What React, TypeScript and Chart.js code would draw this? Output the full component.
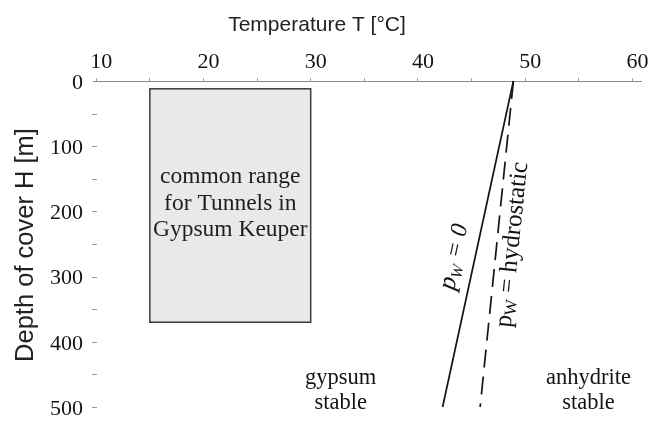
import { useEffect, useRef } from 'react';
import { Chart, registerables } from 'chart.js';

Chart.register(...registerables);

// Temperature axis (top) and depth axis (left, downward)
const tempTicks = [10, 15, 20, 25, 30, 35, 40, 45, 50, 55, 60];
const depthTicks = [0, 50, 100, 150, 200, 250, 300, 350, 400, 450, 500];

// Shaded range of typical tunnels in Gypsum Keuper
const boxTemp = [15, 30];
const boxDepth = [12, 370];
const boxLabel = ['common range', 'for Tunnels in', 'Gypsum Keuper'];

// Gypsum/anhydrite equilibrium temperature vs depth
const dryDepth = [0, 500];
const dryTemp = [48.9, 42.3]; // p_w = 0
const wetDepth = [0, 500];
const wetTemp = [48.9, 45.8]; // p_w = hydrostatic

const gypsumLabel = ['gypsum', 'stable'];
const anhydriteLabel = ['anhydrite', 'stable'];

const SERIF = '"Liberation Serif", "Times New Roman", serif';
const SANS = '"Liberation Sans", Arial, sans-serif';
const INK = '#141414';

type Part = { text: string; font: string; dy: number };

function drawParts(ctx: CanvasRenderingContext2D, parts: Part[], cx: number, cy: number, angle: number) {
  ctx.save();
  ctx.translate(cx, cy);
  ctx.rotate(angle);
  ctx.textBaseline = 'middle';
  ctx.textAlign = 'left';
  const widths = parts.map((p) => {
    ctx.font = p.font;
    return ctx.measureText(p.text).width;
  });
  const total = widths.reduce((a, b) => a + b, 0);
  let x = -total / 2;
  parts.forEach((p, i) => {
    ctx.font = p.font;
    ctx.fillText(p.text, x, p.dy);
    x += widths[i];
  });
  ctx.restore();
}

const annotations = {
  id: 'annotations',
  beforeDatasetsDraw(chart: any) {
    const { ctx } = chart;
    const xs = chart.scales.x;
    const ys = chart.scales.y;
    const x1 = xs.getPixelForValue(boxTemp[0]);
    const x2 = xs.getPixelForValue(boxTemp[1]);
    const y1 = ys.getPixelForValue(boxDepth[0]);
    const y2 = ys.getPixelForValue(boxDepth[1]);
    ctx.save();
    ctx.fillStyle = '#e9e9e9';
    ctx.fillRect(x1, y1, x2 - x1, y2 - y1);
    ctx.strokeStyle = '#3c3c3c';
    ctx.lineWidth = 1.5;
    ctx.strokeRect(x1, y1, x2 - x1, y2 - y1);

    ctx.fillStyle = '#1e1e1e';
    ctx.font = `23.5px ${SERIF}`;
    ctx.textAlign = 'center';
    ctx.textBaseline = 'alphabetic';
    const cx = (x1 + x2) / 2;
    const base = ys.getPixelForValue(157);
    boxLabel.forEach((line, i) => ctx.fillText(line, cx, base + i * 26.5));
    ctx.restore();
  },
  afterDraw(chart: any) {
    const { ctx } = chart;
    const xs = chart.scales.x;
    const ys = chart.scales.y;
    ctx.save();

    // small tick marks of the depth axis
    ctx.strokeStyle = '#9a9a9a';
    ctx.lineWidth = 1;
    depthTicks.forEach((v) => {
      if (v === 0) return;
      const y = Math.round(ys.getPixelForValue(v)) + 0.5;
      ctx.beginPath();
      ctx.moveTo(xs.left - 1, y);
      ctx.lineTo(xs.left + 4, y);
      ctx.stroke();
    });

    // axis titles
    ctx.fillStyle = '#222';
    ctx.font = `21px ${SANS}`;
    ctx.textAlign = 'center';
    ctx.textBaseline = 'alphabetic';
    ctx.fillText('Temperature T [°C]', 317, 31);

    ctx.save();
    ctx.translate(26, 245);
    ctx.rotate(-Math.PI / 2);
    ctx.textBaseline = 'middle';
    ctx.font = `25.5px ${SANS}`;
    ctx.fillText('Depth of cover H [m]', 0, 0);
    ctx.restore();

    // curve labels, aligned with each curve
    ctx.fillStyle = INK;
    const ang = (t: number[], h: number[]) =>
      Math.atan2(
        ys.getPixelForValue(h[0]) - ys.getPixelForValue(h[1]),
        xs.getPixelForValue(t[0]) - xs.getPixelForValue(t[1])
      );
    drawParts(
      ctx,
      [
        { text: 'p', font: `italic 26px ${SERIF}`, dy: 0 },
        { text: 'W', font: `italic 16px ${SERIF}`, dy: 7 },
        { text: ' = 0', font: `italic 24px ${SERIF}`, dy: 0 },
      ],
      xs.getPixelForValue(43.4),
      ys.getPixelForValue(270),
      ang(dryTemp, dryDepth)
    );
    drawParts(
      ctx,
      [
        { text: 'p', font: `25px ${SERIF}`, dy: 0 },
        { text: 'W', font: `17px ${SERIF}`, dy: 6 },
        { text: ' = hydrostatic', font: `25px ${SERIF}`, dy: 0 },
      ],
      xs.getPixelForValue(48.8),
      ys.getPixelForValue(251),
      ang(wetTemp, wetDepth)
    );

    // stability fields
    ctx.font = `22.5px ${SERIF}`;
    ctx.textAlign = 'center';
    ctx.textBaseline = 'alphabetic';
    const drawField = (lines: string[], t: number) => {
      const x = xs.getPixelForValue(t);
      lines.forEach((l, i) => ctx.fillText(l, x, 384 + i * 25));
    };
    drawField(gypsumLabel, 32.8);
    drawField(anhydriteLabel, 55.9);

    ctx.restore();
  },
};

export default function App() {
  const canvasRef = useRef<HTMLCanvasElement | null>(null);

  useEffect(() => {
    const canvas = canvasRef.current;
    if (!canvas) return;
    const line = (t: number[], h: number[], dash: number[]) => ({
      data: h.map((d, i) => ({ x: t[i], y: d })),
      showLine: true,
      borderColor: INK,
      borderWidth: 1.7,
      borderDash: dash,
      pointRadius: 0,
      fill: false,
      clip: false as any,
    });
    const chart = new Chart(canvas, {
      type: 'scatter',
      data: {
        datasets: [line(dryTemp, dryDepth, []), line(wetTemp, wetDepth, [18, 9])],
      },
      options: {
        animation: false,
        responsive: false,
        devicePixelRatio: 1,
        layout: { padding: { top: 0, left: 0, right: 7, bottom: 14 } },
        plugins: { legend: { display: false }, tooltip: { enabled: false } },
        scales: {
          x: {
            type: 'linear',
            position: 'top',
            min: 9.7,
            max: 60.8,
            afterBuildTicks: (s: any) => {
              s.ticks = tempTicks.map((v) => ({ value: v }));
            },
            afterFit: (s: any) => {
              s.height = 81;
              s.paddingLeft = 0;
              s.paddingRight = 0;
            },
            grid: { drawOnChartArea: false, drawTicks: true, tickLength: 3, color: '#a0a0a0' },
            border: { display: true, color: '#8a8a8a', width: 1 },
            ticks: {
              callback: (v: any) => (Number(v) % 10 === 0 ? String(v) : ''),
              font: { family: SERIF, size: 22 },
              color: INK,
              padding: 3,
              labelOffset: 5,
              maxRotation: 0,
              autoSkip: false,
            },
          },
          y: {
            type: 'linear',
            reverse: true,
            min: 0,
            max: 500,
            afterBuildTicks: (s: any) => {
              s.ticks = depthTicks.map((v) => ({ value: v }));
            },
            afterFit: (s: any) => {
              s.width = 93;
              s.paddingTop = 0;
              s.paddingBottom = 0;
            },
            grid: { display: false, drawTicks: false },
            border: { display: false },
            ticks: {
              callback: (v: any) => (Number(v) % 100 === 0 ? String(v) : ''),
              font: { family: SERIF, size: 22 },
              color: INK,
              padding: 10,
              labelOffset: 2,
              autoSkip: false,
            },
          },
        },
      },
      plugins: [annotations],
    });
    return () => chart.destroy();
  }, []);

  return (
    <div style={{ position: 'fixed', left: 0, top: 0, width: 648, height: 421, background: '#fff' }}>
      <canvas ref={canvasRef} width={648} height={421} />
    </div>
  );
}
